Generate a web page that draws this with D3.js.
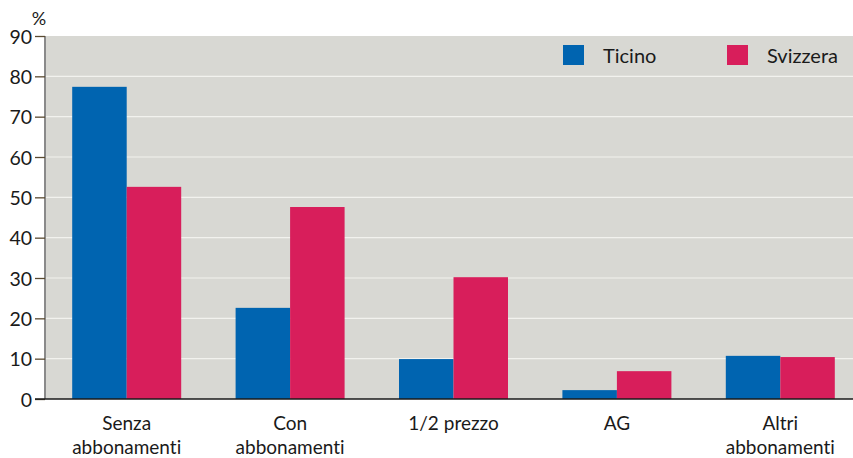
<!DOCTYPE html>
<html>
<head>
<meta charset="utf-8">
<script src="https://cdn.jsdelivr.net/npm/d3@7"></script>
<style>
  body { margin: 0; background: #fff; }
  svg text { font-family: Lato, "Open Sans", sans-serif; fill: #1a1a1a; font-variant-ligatures: none; }
</style>
</head>
<body>
<svg id="chart" width="853" height="458"></svg>
<script>
const categories = [["Senza", "abbonamenti"], ["Con", "abbonamenti"], ["1/2 prezzo"], ["AG"], ["Altri", "abbonamenti"]];
const ticino = [77.4, 22.6, 9.9, 2.2, 10.7];
const svizzera = [52.6, 47.6, 30.2, 6.9, 10.4];
const seriesNames = ["Ticino", "Svizzera"];
const yTicks = [0, 10, 20, 30, 40, 50, 60, 70, 80, 90];

const colors = ["#0064b0", "#d81e5b"];
const svg = d3.select("#chart");
const plotL = 45, plotR = 853, plotT = 36, plotB = 399;

const x = d3.scaleBand().domain(d3.range(categories.length)).range([45, 862]).paddingInner(0.333).paddingOuter(0.1665);
const x1 = d3.scaleBand().domain([0, 1]).range([0, x.bandwidth()]);
const y = d3.scaleLinear().domain([0, 90]).range([plotB, plotT]);

svg.append("rect").attr("x", plotL).attr("y", plotT).attr("width", plotR - plotL).attr("height", plotB - plotT).attr("fill", "#d8d8d3");

// grid
svg.append("g").selectAll("line").data(yTicks.slice(1, -1)).join("line")
  .attr("x1", plotL).attr("x2", plotR)
  .attr("y1", d => y(d)).attr("y2", d => y(d))
  .attr("stroke", "#f2f2ee").attr("stroke-width", 1.2);

// bars
const data = categories.map((c, i) => [ticino[i], svizzera[i]]);
const g = svg.append("g").selectAll("g").data(data).join("g")
  .attr("transform", (d, i) => `translate(${x(i)},0)`);
g.selectAll("rect").data(d => d).join("rect")
  .attr("x", (d, j) => x1(j)).attr("width", x1.bandwidth())
  .attr("y", d => y(d)).attr("height", d => y(0) - y(d))
  .attr("fill", (d, j) => colors[j]);

// y axis
const yAxis = svg.append("g").attr("transform", `translate(${plotL},0)`)
  .call(d3.axisLeft(y).tickValues(yTicks).tickSize(10).tickPadding(3));
yAxis.select(".domain").attr("stroke", "#8a8a8a").attr("stroke-width", 2).attr("d", `M0,${plotT}V${plotB}`);
yAxis.selectAll(".tick line").attr("stroke", "#5a4a30").attr("stroke-width", 1.3);
yAxis.selectAll(".tick text").attr("font-size", 19.5).attr("fill", "#1a1a1a").attr("dy", "0.36em");

svg.append("text").attr("x", 39).attr("y", 25).attr("text-anchor", "middle").attr("font-size", 18).text("%");

// bottom axis
svg.append("line").attr("x1", 35).attr("x2", plotR).attr("y1", plotB).attr("y2", plotB)
  .attr("stroke", "#1a1a1a").attr("stroke-width", 1.5);

// category labels
const lab = svg.append("g").selectAll("text").data(categories).join("text")
  .attr("x", (d, i) => x(i) + x.bandwidth() / 2)
  .attr("y", 430).attr("text-anchor", "middle").attr("font-size", 19);
lab.selectAll("tspan").data(d => d).join("tspan")
  .attr("x", function () { return this.parentNode.getAttribute("x"); })
  .attr("dy", (d, i) => i === 0 ? 0 : 24).text(d => d);

// legend
const legX = [563, 727];
const leg = svg.append("g").selectAll("g").data(seriesNames).join("g")
  .attr("transform", (d, i) => `translate(${legX[i]},45)`);
leg.append("rect").attr("width", 21).attr("height", 20).attr("fill", (d, i) => colors[i]);
leg.append("text").attr("x", 40).attr("y", 18).attr("font-size", 20).text(d => d);
</script>
</body>
</html>
